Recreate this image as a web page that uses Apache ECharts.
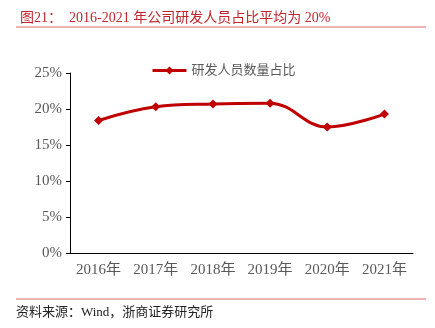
<!DOCTYPE html>
<html><head><meta charset="utf-8">
<script src="https://cdn.jsdelivr.net/npm/echarts@6/dist/echarts.min.js"></script>
<style>html,body{margin:0;padding:0;background:#fff}#c{width:435px;height:328px}</style>
</head><body><div id="c"></div>
<script>
var categories = ['2016年','2017年','2018年','2019年','2020年','2021年'];
var values = [18.4, 20.3, 20.7, 20.8, 17.5, 19.3];
var seriesName = '研发人员数量占比';
var titleText = '图21：  2016-2021 年公司研发人员占比平均为 20%';
var sourceText = '资料来源：Wind，浙商证券研究所';
var serif = '"Liberation Serif","DejaVu Serif","Noto Sans CJK SC",serif';
var chart = echarts.init(document.getElementById('c'));
chart.setOption({
  animation:false,
  backgroundColor:'#fff',
  title:{text:titleText,left:15,top:6,textStyle:{fontFamily:serif,fontSize:14,fontWeight:'normal',color:'#c0262d'}},
  graphic:[
    {type:'line',shape:{x1:16,y1:27,x2:426,y2:27},style:{stroke:'#e59a9a',lineWidth:1.5}},
    {type:'line',shape:{x1:16,y1:299,x2:426,y2:299},style:{stroke:'#e59a9a',lineWidth:1.5}},
    {type:'text',left:16,top:306,style:{text:sourceText,font:'13px '+serif,fill:'#222'}}
  ],
  legend:{top:59,left:146,itemWidth:34,itemHeight:10,lineStyle:{width:3},textStyle:{fontFamily:serif,fontSize:13,color:'#595959'},data:[seriesName]},
  grid:{left:70,right:22,top:73,bottom:75},
  xAxis:{type:'category',data:categories,boundaryGap:true,
    axisLine:{lineStyle:{color:'#000',width:1}},axisTick:{show:false},
    axisLabel:{interval:0,fontFamily:serif,fontSize:15,color:'#595959',margin:10}},
  yAxis:{type:'value',min:0,max:25,interval:5,
    axisLine:{show:true,lineStyle:{color:'#000',width:1}},
    axisTick:{show:true,inside:false,length:4,lineStyle:{color:'#000'}},
    splitLine:{show:false},
    axisLabel:{fontFamily:serif,fontSize:15,color:'#595959',margin:8,formatter:'{value}%'}},
  series:[{name:seriesName,type:'line',data:values,smooth:0.4,symbol:'diamond',symbolSize:9,
    lineStyle:{color:'#c00000',width:3},itemStyle:{color:'#c00000'}}]
});
</script></body></html>
